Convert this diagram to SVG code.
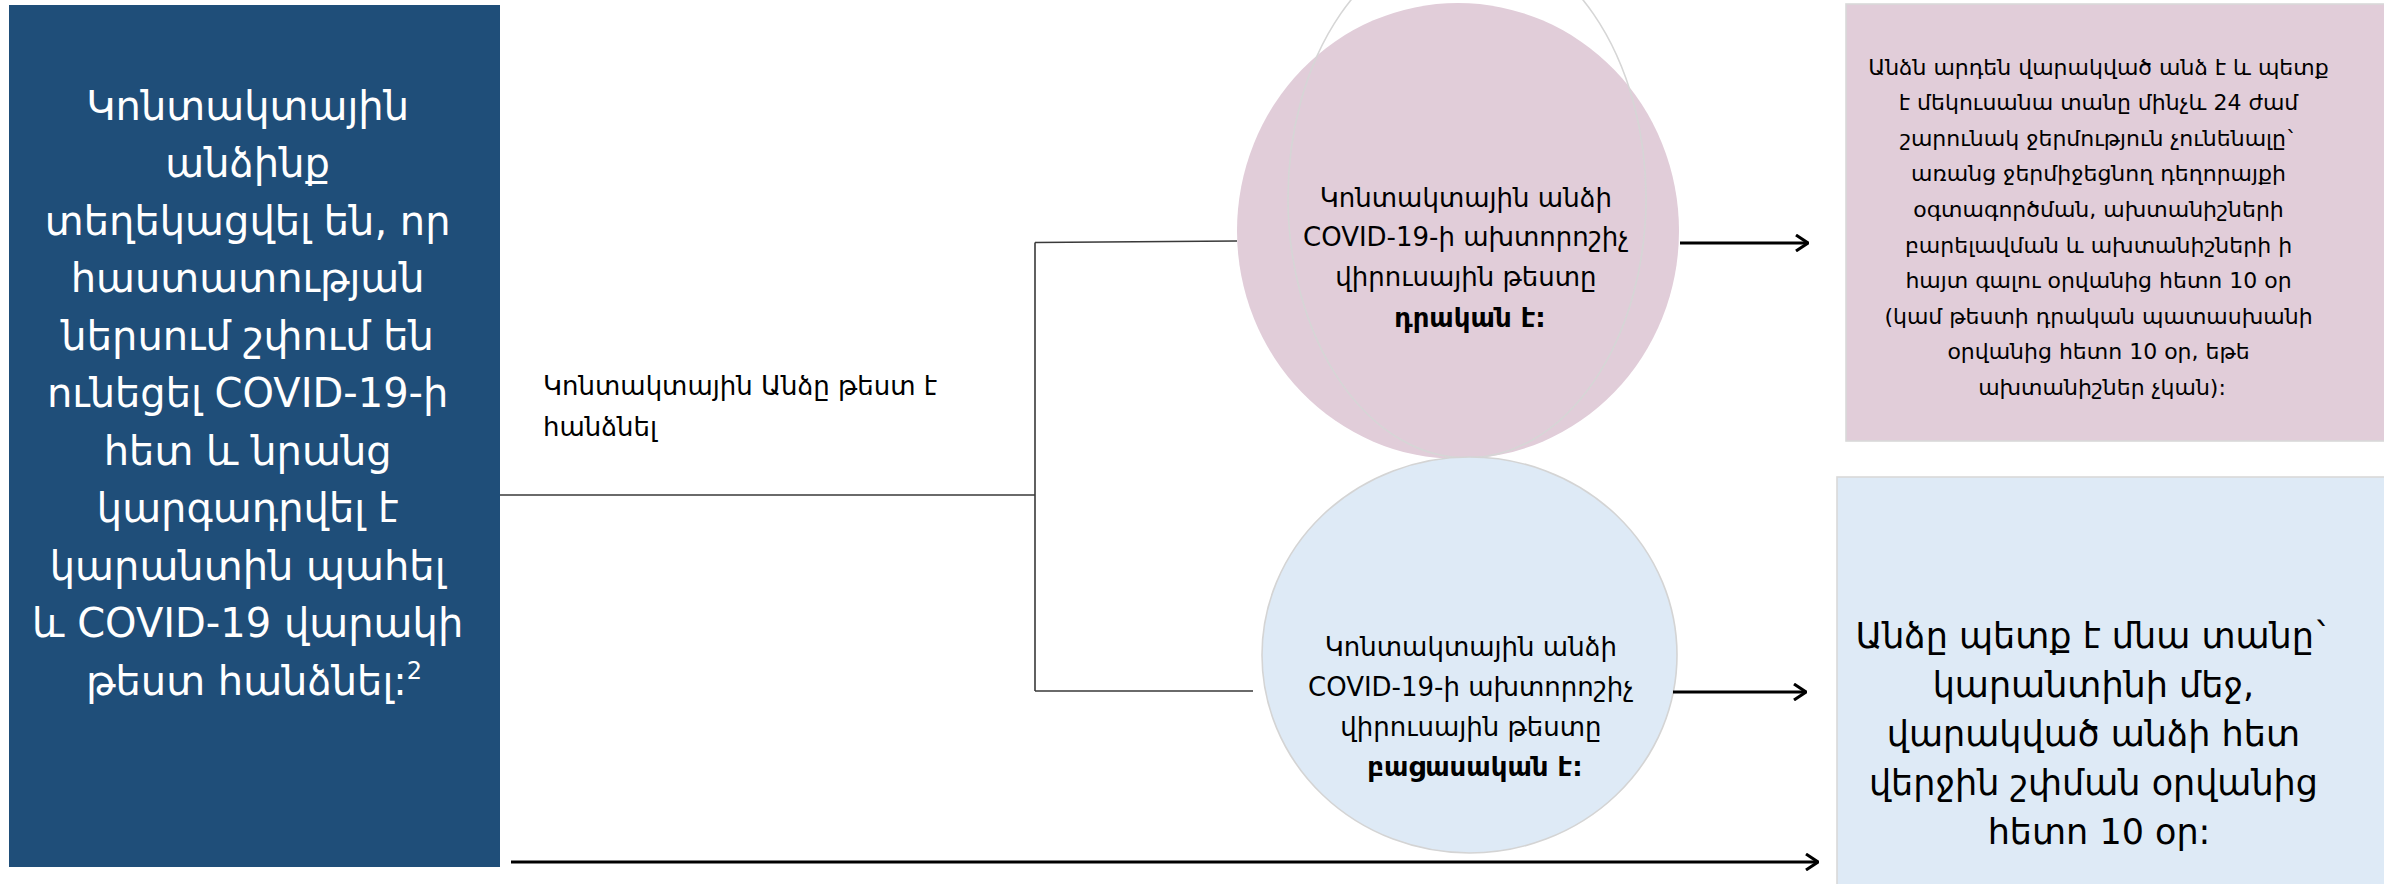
<svg xmlns="http://www.w3.org/2000/svg" width="2384" height="884" viewBox="0 0 2384 884">
<defs>
<style>
.t{font-family:"DejaVu Sans","Noto Sans",sans-serif;fill:#000;text-anchor:middle}
.w{fill:#fff}
.thin{stroke:#3a3a3a;stroke-width:1.6;fill:none}
.arr{stroke:#000;stroke-width:3;fill:none}
</style>
<marker id="ah" viewBox="0 0 14 18" refX="13" refY="9" markerWidth="14" markerHeight="18" markerUnits="userSpaceOnUse" orient="auto">
<path d="M1,1 L13,9 L1,17" fill="none" stroke="#000" stroke-width="3"/>
</marker>
</defs>
<rect width="2384" height="884" fill="#fff"/>
<g id="start">
<rect x="9" y="5" width="491" height="862" fill="#1F4E79"/>
<text class="t w" font-size="40">
<tspan x="254" y="120">Կոնտակտային</tspan>
<tspan x="254" y="177">անձինք</tspan>
<tspan x="254" y="235">տեղեկացվել են, որ</tspan>
<tspan x="254" y="292">հաստատության</tspan>
<tspan x="254" y="350">ներսում շփում են</tspan>
<tspan x="254" y="407">ունեցել COVID-19-ի</tspan>
<tspan x="254" y="465">հետ և նրանց</tspan>
<tspan x="254" y="522">կարգադրվել է</tspan>
<tspan x="254" y="580">կարանտին պահել</tspan>
<tspan x="254" y="637">և COVID-19 վարակի</tspan>
<tspan x="254" y="695">թեստ հանձնել:<tspan font-size="24" dy="-16">2</tspan></tspan>
</text>
</g>
<g id="label-test">
<text class="t" font-size="26" style="text-anchor:start">
<tspan x="543" y="395">Կոնտակտային Անձը թեստ է</tspan>
<tspan x="543" y="436">հանձնել</tspan>
</text>
</g>
<g id="positive">
<ellipse cx="1458" cy="231" rx="221" ry="228" fill="#E1CDD9"/>
<ellipse cx="1467" cy="198" rx="179" ry="260" fill="none" stroke="#d6d6d6" stroke-width="1.6"/>
<text class="t" font-size="26">
<tspan x="1470" y="207">Կոնտակտային անձի</tspan>
<tspan x="1470" y="246">COVID-19-ի ախտորոշիչ</tspan>
<tspan x="1470" y="286">վիրուսային թեստը</tspan>
<tspan x="1470" y="327" font-weight="bold">դրական է:</tspan>
</text>
</g>
<g id="negative">
<ellipse cx="1469.5" cy="655" rx="207.5" ry="198" fill="#DEEAF6" stroke="#d4d4d4" stroke-width="1.6"/>
<text class="t" font-size="26">
<tspan x="1475" y="656">Կոնտակտային անձի</tspan>
<tspan x="1475" y="696">COVID-19-ի ախտորոշիչ</tspan>
<tspan x="1475" y="736">վիրուսային թեստը</tspan>
<tspan x="1475" y="776" font-weight="bold">բացասական է:</tspan>
</text>
</g>
<g id="isolate">
<rect x="1846" y="4" width="560" height="437" fill="#E1CDD9" stroke="#d9d9d9" stroke-width="1.6"/>
<text class="t" font-size="22">
<tspan x="2102" y="75">Անձն արդեն վարակված անձ է և պետք</tspan>
<tspan x="2102" y="110">է մեկուսանա տանը մինչև 24 ժամ</tspan>
<tspan x="2102" y="146">շարունակ ջերմություն չունենալը`</tspan>
<tspan x="2102" y="181">առանց ջերմիջեցնող դեղորայքի</tspan>
<tspan x="2102" y="217">օգտագործման, ախտանիշների</tspan>
<tspan x="2102" y="253">բարելավման և ախտանիշների ի</tspan>
<tspan x="2102" y="288">հայտ գալու օրվանից հետո 10 օր</tspan>
<tspan x="2102" y="324">(կամ թեստի դրական պատասխանի</tspan>
<tspan x="2102" y="359">օրվանից հետո 10 օր, եթե</tspan>
<tspan x="2102" y="395">ախտանիշներ չկան):</tspan>
</text>
</g>
<g id="quarantine">
<rect x="1837" y="477" width="560" height="420" fill="#DEEAF6" stroke="#d9d9d9" stroke-width="1.6"/>
<text class="t" font-size="35">
<tspan x="2099" y="648">Անձը պետք է մնա տանը`</tspan>
<tspan x="2099" y="697">կարանտինի մեջ,</tspan>
<tspan x="2099" y="746">վարակված անձի հետ</tspan>
<tspan x="2099" y="795">վերջին շփման օրվանից</tspan>
<tspan x="2099" y="844">հետո 10 օր:</tspan>
</text>
</g>
<g id="connectors">
<path class="thin" d="M500,495 H1035 M1035,242.5 V691 M1035,242.5 L1237,241 M1035,691 H1253"/>
<path class="arr" d="M1680,243 H1808" marker-end="url(#ah)"/>
<path class="arr" d="M1673,692 H1806" marker-end="url(#ah)"/>
<path class="arr" d="M511,862 H1818" marker-end="url(#ah)"/>
</g>
</svg>
